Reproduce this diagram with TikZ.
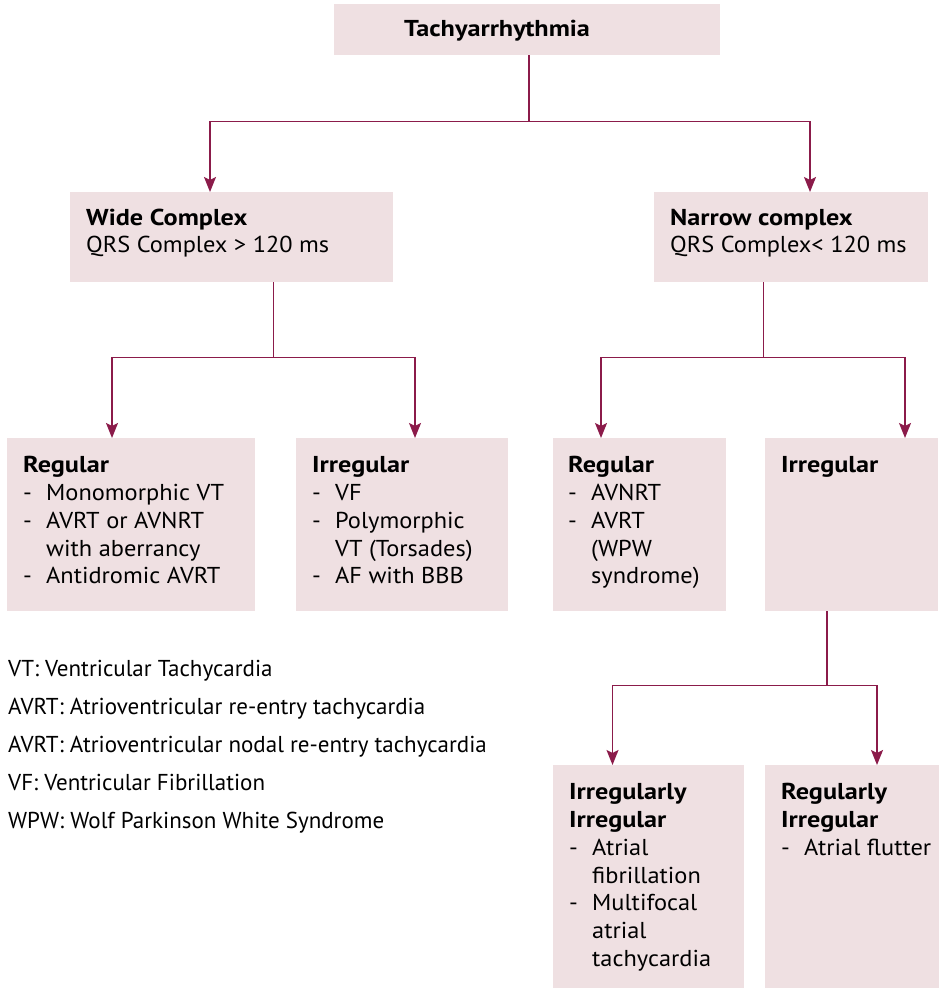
\documentclass[tikz,border=0pt]{standalone}
\usepackage{fontspec}
\setmainfont{PT Sans}[FakeStretch=1.06,BoldFeatures={FakeStretch=1.14}]
\newfontfamily\legendfont{PT Sans}
\usetikzlibrary{arrows.meta}
\definecolor{boxfill}{RGB}{239,224,226}
\definecolor{linkcol}{RGB}{139,27,74}
\newcommand\dashitem{\makebox[23pt][l]{-}}
\newcommand\contline{\hspace*{23pt}}
\begin{document}
\begin{tikzpicture}[x=1pt,y=-1pt,
  box/.style={draw=none,fill=boxfill,inner sep=0,anchor=north west},
  txt/.style={anchor=north west,inner sep=0,align=left,font=\fontsize{23}{27.8}\selectfont},
  legend/.style={anchor=north west,inner sep=0,align=left,font=\legendfont\fontsize{23}{38}\selectfont},
  link/.style={draw=linkcol,line width=1.4pt},
  arr/.style={link,-{Stealth[width=12pt,length=15pt,inset=3pt]}}]
\useasboundingbox (0,0) rectangle (940,990);

% boxes
\node[box,minimum width=386pt,minimum height=51pt] (top) at (334,4) {};
\node[box,minimum width=323pt,minimum height=90pt] (wide) at (70,192) {};
\node[box,minimum width=274pt,minimum height=90pt] (narrow) at (654,192) {};
\node[box,minimum width=248pt,minimum height=173pt] (wreg) at (7,438) {};
\node[box,minimum width=212pt,minimum height=173pt] (wirr) at (296,438) {};
\node[box,minimum width=173pt,minimum height=173pt] (nreg) at (553,438) {};
\node[box,minimum width=173pt,minimum height=173pt] (nirr) at (765,438) {};
\node[box,minimum width=191pt,minimum height=223pt] (irrirr) at (553,765) {};
\node[box,minimum width=174pt,minimum height=223pt] (regirr) at (765,765) {};

% texts
\node[anchor=base west,inner sep=0,font=\fontsize{23}{27.8}\selectfont\bfseries] (ttop) at (404,37) {Tachyarrhythmia};
\node[txt] (twide) at (86,205.5) {\strut\textbf{Wide Complex}\\QRS Complex > 120 ms};
\node[txt] (tnarrow) at (670,205.5) {\strut\textbf{Narrow complex}\\QRS Complex< 120 ms};
\node[txt] (twreg) at (23,453) {\strut\textbf{Regular}\\\dashitem Monomorphic VT\\\dashitem AVRT or AVNRT\\\contline with aberrancy\\\dashitem Antidromic AVRT};
\node[txt] (twirr) at (312,453) {\strut\textbf{Irregular}\\\dashitem VF\\\dashitem Polymorphic\\\contline VT (Torsades)\\\dashitem AF with BBB};
\node[txt] (tnreg) at (568,453) {\strut\textbf{Regular}\\\dashitem AVNRT\\\dashitem AVRT\\\contline (WPW\\\contline syndrome)};
\node[txt] (tnirr) at (781,453) {\strut\textbf{Irregular}};
\node[txt] (tirrirr) at (569,780) {\strut\textbf{Irregularly}\\\textbf{Irregular}\\\dashitem Atrial\\\contline fibrillation\\\dashitem Multifocal\\\contline atrial\\\contline tachycardia};
\node[txt] (tregirr) at (781,780) {\strut\textbf{Regularly}\\\textbf{Irregular}\\\dashitem Atrial flutter};

% abbreviations
\node[legend] (abbr) at (8,649.4) {\strut VT: Ventricular Tachycardia\\AVRT: Atrioventricular re-entry tachycardia\\AVRT: Atrioventricular nodal re-entry tachycardia\\VF: Ventricular Fibrillation\\WPW: Wolf Parkinson White Syndrome};

% junctions and arrow columns
\coordinate (j0) at (529,121.5);
\coordinate (j1) at (273.5,357.5);
\coordinate (j2) at (763.5,357.5);
\coordinate (j3) at (827,685.5);
\coordinate (c1) at (210,0);
\coordinate (c2) at (810,0);
\coordinate (c3) at (112,0);
\coordinate (c4) at (415,0);
\coordinate (c5) at (601,0);
\coordinate (c6) at (905,0);
\coordinate (c7) at (612.5,0);
\coordinate (c8) at (877,0);

% connectors
\draw[link] (j0 |- top.south) -- (j0);
\draw[arr] (j0) -| (c1 |- wide.north);
\draw[arr] (j0) -| (c2 |- narrow.north);
\draw[link] (j1 |- wide.south) -- (j1);
\draw[arr] (j1) -| (c3 |- wreg.north);
\draw[arr] (j1) -| (c4 |- wirr.north);
\draw[link] (j2 |- narrow.south) -- (j2);
\draw[arr] (j2) -| (c5 |- nreg.north);
\draw[arr] (j2) -| (c6 |- nirr.north);
\draw[link] (j3 |- nirr.south) -- (j3);
\draw[arr] (j3) -| (c7 |- irrirr.north);
\draw[arr] (j3) -| (c8 |- regirr.north);
\end{tikzpicture}
\end{document}
